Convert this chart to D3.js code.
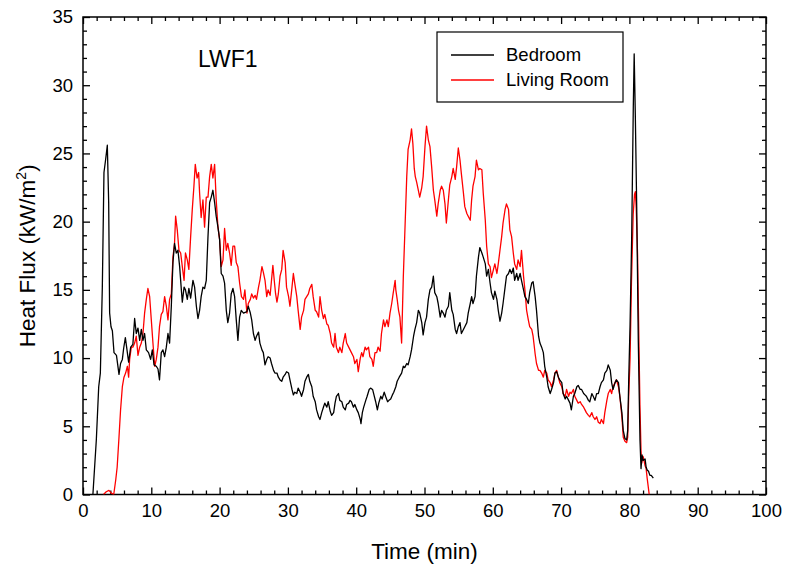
<!DOCTYPE html>
<html><head><meta charset="utf-8">
<script src="https://cdn.jsdelivr.net/npm/d3@7"></script>
<style>
html,body{margin:0;padding:0;background:#fff;}
svg text{font-family:"Liberation Sans",Arial,sans-serif;fill:#000;}
</style></head>
<body><svg id="chart" width="786" height="573"></svg>
<script>
// ---- data ----
const xTicks = [0,10,20,30,40,50,60,70,80,90,100];
const yTicks = [0,5,10,15,20,25,30,35];
const seriesNames = ["Bedroom","Living Room"];
const seriesColors = ["#000000","#ff0000"];
const chartLabel = "LWF1";

const bedroomTime = [1.45,1.95,2.3,2.54,2.83,3.07,3.3,3.56,3.76,3.9,4.1,4.3,4.54,4.9,5.27,5.5,5.76,5.95,6.2,6.44,6.68,6.98,7.3,7.56,7.8,8.05,8.3,8.54,8.78,9.02,9.27,9.6,9.9,10.15,10.4,10.73,10.98,11.2,11.46,11.7,11.95,12.2,12.44,12.68,12.93,13.17,13.4,13.66,13.9,14.15,14.4,14.54,14.8,15.0,15.27,15.5,15.76,16.1,16.34,16.6,16.83,17.07,17.3,17.56,17.8,18.05,18.3,18.54,18.78,19.02,19.27,19.5,19.76,20.0,20.24,20.5,20.73,20.98,21.2,21.46,21.7,21.95,22.2,22.44,22.68,22.93,23.17,
23.5,24.0,24.2,24.5,24.7,24.95,25.2,25.4,25.7,25.9,26.2,26.4,26.65,26.9,27.1,27.4,27.6,27.9,28.1,28.4,28.6,28.85,29.1,29.3,29.6,29.8,30.1,30.3,30.6,30.8,31.0,31.3,31.5,31.8,32.0,32.3,32.5,32.75,33.0,33.2,33.5,33.7,34.0,34.2,34.5,34.7,34.95,35.2,35.4,35.7,35.9,36.2,36.4,36.7,36.9,37.1,37.4,37.6,37.9,38.1,38.4,38.6,38.9,39.1,39.3,39.6,39.8,40.1,40.3,40.6,40.7,40.9,41.1,41.4,41.6,41.9,42.1,42.4,42.6,42.85,43.1,43.3,43.6,43.8,44.1,44.3,44.6,44.8,45.05,45.3,45.5,45.8,46.0,46.3,
46.65,46.9,47.1,47.4,47.6,47.9,48.1,48.4,48.6,48.85,49.1,49.3,49.6,49.8,50.07,50.3,50.56,50.8,51.05,51.3,51.5,51.8,52.0,52.3,52.5,52.75,53.0,53.2,53.5,53.7,54.0,54.2,54.5,54.7,54.95,55.2,55.4,55.7,55.9,56.2,56.4,56.7,56.9,57.1,57.4,57.6,57.9,58.1,58.4,58.6,58.9,59.1,59.35,59.6,59.8,60.1,60.3,60.6,60.8,61.05,61.3,61.5,61.8,62.0,62.3,62.5,62.75,63.0,63.2,63.5,63.7,64.0,64.2,64.5,64.7,64.95,65.2,65.4,65.7,65.9,66.2,66.4,66.7,
66.9,67.15,67.4,67.6,67.9,68.1,68.4,68.6,68.9,69.1,69.35,69.6,69.8,70.1,70.3,70.6,70.8,71.1,71.3,71.5,71.8,72.0,72.3,72.5,72.8,73.0,73.3,73.5,73.7,74.0,74.2,74.5,74.7,74.96,75.2,75.45,75.7,75.9,76.2,76.4,76.7,76.9,77.2,77.4,77.6,77.9,78.1,78.4,78.6,78.9,79.1,79.35,79.6,79.75,79.9,80.1,80.33,80.57,80.7,80.87,81.07,81.3,81.55,81.7,81.85,82.0,82.3,82.45,82.6,82.8,83.0,83.2,83.5];
const bedroomFlux = [0,4.0,7.9,8.9,15.2,23.6,24.5,25.6,21.4,13.3,12.3,12.0,10.4,10.2,8.8,9.6,9.9,10.7,11.5,10.6,9.7,10.8,11.0,12.9,11.8,12.2,11.3,12.1,11.3,11.8,10.6,10.4,9.9,10.6,9.5,9.4,9.2,8.4,10.4,10.6,10.1,10.8,11.8,11.1,13.8,17.0,18.4,17.7,17.9,16.7,15.0,14.1,15.2,15.0,14.3,15.1,14.4,15.7,15.2,13.8,12.9,13.5,14.5,15.2,15.1,15.7,18.9,21.4,21.8,22.3,21.4,20.4,19.6,18.7,16.2,16.0,15.5,13.5,12.6,13.3,14.7,15.1,14.5,12.8,11.3,13.0,13.5,
13.3,13.4,13.8,13.3,12.8,11.8,11.3,11.6,11.9,11.1,10.6,10.4,9.5,9.9,10.1,10.0,9.6,9.1,8.9,8.9,8.6,8.4,8.3,8.6,8.8,9.0,8.9,8.4,7.7,7.3,7.5,7.4,7.8,7.5,7.2,7.7,8.3,8.6,8.8,8.3,7.9,7.2,6.8,6.2,5.7,5.5,6.0,6.4,6.7,6.4,6.8,6.1,5.8,6.0,6.7,7.2,7.4,6.9,6.8,6.4,6.2,6.6,6.7,6.9,6.8,6.4,6.6,6.2,6.0,5.5,5.2,6.0,6.4,6.9,7.2,7.7,7.8,7.7,7.3,6.8,6.2,6.7,7.2,7.0,7.5,7.2,6.8,6.9,7.0,7.3,7.5,7.9,8.3,8.6,
8.9,9.4,9.3,9.6,9.5,10.1,10.6,11.6,12.1,12.6,13.5,13.3,12.6,11.7,12.6,13.0,14.3,15.0,15.2,16.0,14.8,14.5,14.0,13.0,13.5,13.3,13.0,13.5,13.8,14.8,13.5,13.2,12.1,11.8,12.3,12.6,11.8,12.1,12.3,12.6,13.3,14.0,14.5,14.0,14.5,16.0,17.4,18.1,17.7,17.4,16.9,16.0,16.5,15.5,14.8,14.3,14.9,14.3,13.5,12.7,13.3,14.0,15.2,16.0,16.2,16.5,16.2,16.6,15.7,16.2,15.7,16.2,15.7,15.0,14.5,14.3,14.0,14.8,15.5,15.6,14.5,13.5,11.6,
11.1,10.8,10.4,9.4,8.6,7.9,7.4,7.7,8.2,8.9,9.0,8.6,8.4,8.2,7.4,7.0,7.2,6.9,6.7,6.2,7.2,7.4,7.9,8.0,7.7,7.7,7.4,7.3,7.2,6.9,6.8,7.4,7.2,6.9,7.4,7.4,7.9,8.2,8.4,8.9,9.1,9.5,9.1,8.2,7.7,8.2,8.4,8.2,7.2,6.0,4.7,4.1,4.0,4.7,8.4,12.5,18.7,28.4,32.3,27.7,21.1,11.3,4.0,1.9,2.9,2.5,2.6,2.0,1.8,1.7,1.4,1.4,1.2];

const livingTime = [3.0,3.4,3.8,4.15,4.5,4.8,5.0,5.27,5.5,5.76,6.0,6.24,6.5,6.68,6.83,7.07,7.3,7.56,7.8,8.05,8.3,8.54,8.78,9.02,9.27,9.5,9.76,10.0,10.24,10.5,10.73,10.98,11.2,11.46,11.7,11.95,12.2,12.44,12.68,12.93,13.17,13.4,13.56,13.8,14.05,14.3,14.54,14.8,15.0,15.27,15.5,15.76,16.0,16.24,16.44,16.7,16.93,17.07,17.3,17.56,17.8,18.05,18.3,18.54,18.78,19.02,19.27,19.5,19.76,20.0,20.24,20.5,20.73,20.98,21.2,21.46,21.7,21.95,22.2,22.44,22.68,22.93,
23.2,23.5,23.7,24.0,24.2,24.5,24.7,24.95,25.2,25.4,25.7,25.9,26.2,26.4,26.65,26.9,27.1,27.4,27.6,27.8,28.0,28.2,28.4,28.6,28.85,29.1,29.3,29.6,29.8,30.1,30.3,30.6,30.8,31.0,31.3,31.5,31.8,32.0,32.3,32.5,32.75,33.0,33.2,33.5,33.7,34.0,34.2,34.5,34.7,34.95,35.2,35.4,35.7,35.9,36.2,36.4,36.7,36.9,37.1,37.4,37.6,37.9,38.1,38.4,38.6,38.9,39.1,39.3,39.6,39.8,40.1,40.3,40.6,40.8,41.0,41.3,41.5,41.8,42.0,42.3,42.5,42.75,43.0,43.2,43.5,43.7,44.0,44.2,44.5,44.7,44.95,45.2,45.4,45.7,45.8,46.0,46.2,46.4,46.65,
46.9,47.1,47.4,47.6,47.9,48.1,48.3,48.5,48.65,48.85,49.1,49.3,49.6,49.8,50.07,50.3,50.56,50.8,51.05,51.3,51.5,51.8,52.0,52.3,52.5,52.75,53.0,53.2,53.5,53.7,54.0,54.2,54.5,54.7,54.95,55.2,55.4,55.7,55.9,56.2,56.4,56.7,56.9,57.1,57.4,57.6,57.9,58.1,58.4,58.6,58.9,59.1,59.35,59.6,59.8,60.1,60.3,60.6,60.8,61.05,61.3,61.5,61.8,62.0,62.3,62.5,62.75,63.0,63.2,63.5,63.7,64.0,64.2,64.5,64.7,64.95,65.2,65.4,65.7,65.9,66.2,66.4,66.7,
66.9,67.15,67.4,67.6,67.9,68.1,68.4,68.6,68.9,69.1,69.35,69.6,69.8,70.1,70.3,70.6,70.8,71.1,71.3,71.5,71.8,72.0,72.3,72.5,72.8,73.0,73.3,73.5,73.7,74.0,74.2,74.5,74.7,74.96,75.2,75.45,75.7,75.9,76.2,76.4,76.7,76.9,77.2,77.4,77.6,77.9,78.1,78.4,78.6,78.9,79.1,79.35,79.6,79.75,79.9,80.1,80.3,80.55,80.75,80.87,81.0,81.2,81.4,81.55,81.7,81.8,82.0,82.1,82.3,82.45,82.6,82.9];
const livingFlux = [0,0.2,0.3,0.1,0,1.1,2.0,4.2,6.2,7.9,8.6,8.9,9.4,8.6,9.9,10.8,10.8,11.1,11.6,10.2,10.8,11.1,11.8,13.3,14.3,15.1,14.5,12.8,11.1,9.4,9.9,10.8,12.3,13.2,13.4,14.5,13.8,12.8,14.3,14.7,17.4,18.4,20.4,19.4,17.9,17.7,16.7,15.7,17.7,17.2,16.5,18.9,20.9,22.6,24.2,23.2,23.6,22.1,20.3,21.6,19.6,21.8,21.8,23.3,24.2,23.2,24.2,21.6,19.6,18.7,16.7,17.2,19.5,17.9,18.4,17.7,16.8,18.2,18.2,17.0,16.7,15.5,
14.5,14.3,15.0,13.3,14.0,14.3,14.7,14.4,14.6,14.3,15.2,15.7,16.7,16.3,15.7,14.5,15.0,14.6,15.7,16.8,15.7,14.7,14.1,14.7,16.0,16.5,17.9,17.0,15.2,14.5,13.8,15.2,16.2,15.5,14.5,13.5,12.1,13.0,13.5,14.3,14.5,14.7,15.1,15.4,14.5,13.5,13.4,13.0,14.5,13.5,12.9,13.2,12.5,12.4,11.8,11.1,10.8,11.8,10.8,10.4,10.8,10.4,11.1,11.8,11.1,10.8,10.6,10.4,10.1,9.6,9.9,9.0,10.0,10.4,10.1,10.8,10.6,10.8,10.1,9.9,9.4,10.4,10.4,10.8,10.5,11.8,12.8,12.3,12.8,12.3,13.3,14.0,14.7,15.7,15.0,14.3,13.5,13.0,11.1,
16.0,18.9,23.3,25.3,26.0,26.8,25.7,23.9,23.3,22.9,22.3,21.8,22.5,23.3,25.5,27.0,26.0,25.5,24.0,22.3,21.6,20.4,21.3,22.3,22.6,22.3,21.3,19.9,21.6,22.7,23.3,23.9,23.1,24.0,25.4,24.5,23.5,22.1,21.1,20.6,20.4,20.1,21.6,22.6,23.3,24.5,23.8,23.9,23.8,22.1,20.1,18.2,16.9,16.7,15.9,16.5,16.9,16.2,16.9,17.9,18.9,19.9,20.9,21.3,20.9,19.4,18.9,17.7,16.9,16.5,17.2,16.7,17.9,16.0,15.0,13.5,12.8,12.3,12.1,11.6,10.3,9.6,9.1,
9.1,8.9,8.6,9.1,8.9,8.4,8.2,7.9,8.4,8.9,9.1,8.6,8.2,7.9,7.4,7.2,7.7,7.2,7.5,7.4,7.7,7.2,6.9,6.7,6.8,6.6,6.4,6.2,6.0,5.8,5.7,6.0,5.7,5.5,5.7,5.3,5.2,5.5,5.2,6.0,6.9,7.4,7.7,7.4,7.9,8.2,8.4,7.9,7.2,5.7,4.2,3.9,3.8,4.2,7.2,10.0,15.5,20.5,22.0,22.2,21.0,17.5,11.0,6.4,3.2,2.3,2.8,2.6,2.1,1.9,1.2,0];

// ---- layout ----
const svg = d3.select("#chart");
const L = 83, R = 766, T = 17, B = 494.5;
const x = d3.scaleLinear().domain([0,100]).range([L,R]);
const y = d3.scaleLinear().domain([0,35]).range([B,T]);
const xMinor = d3.range(0,101,2).filter(v => v % 10 !== 0);
const yMinor = d3.range(0,36,1).filter(v => v % 5 !== 0);

svg.append("defs").append("clipPath").attr("id","clip")
  .append("rect").attr("x",L).attr("y",T).attr("width",R-L).attr("height",B-T);

const fs = 18.5;
function styleAxis(g, showText){
  g.select(".domain").remove();
  g.selectAll(".tick line").attr("stroke","#000").attr("stroke-width",1.3);
  g.selectAll(".tick text").attr("font-size",fs).attr("fill","#000")
    .attr("font-family","'Liberation Sans', Arial, sans-serif");
  if(!showText) g.selectAll(".tick text").remove();
}
// bottom
svg.append("g").attr("transform",`translate(0,${B})`)
  .call(d3.axisBottom(x).tickValues(xTicks).tickSizeInner(-7).tickSizeOuter(0).tickPadding(9))
  .call(g=>styleAxis(g,true));
svg.append("g").attr("transform",`translate(0,${B})`)
  .call(d3.axisBottom(x).tickValues(xMinor).tickSizeInner(-4).tickSizeOuter(0).tickFormat(""))
  .call(g=>styleAxis(g,false));
// top
svg.append("g").attr("transform",`translate(0,${T})`)
  .call(d3.axisTop(x).tickValues(xTicks).tickSizeInner(-7).tickSizeOuter(0).tickFormat(""))
  .call(g=>styleAxis(g,false));
svg.append("g").attr("transform",`translate(0,${T})`)
  .call(d3.axisTop(x).tickValues(xMinor).tickSizeInner(-4).tickSizeOuter(0).tickFormat(""))
  .call(g=>styleAxis(g,false));
// left
svg.append("g").attr("transform",`translate(${L},0)`)
  .call(d3.axisLeft(y).tickValues(yTicks).tickSizeInner(-7).tickSizeOuter(0).tickPadding(10))
  .call(g=>styleAxis(g,true));
svg.append("g").attr("transform",`translate(${L},0)`)
  .call(d3.axisLeft(y).tickValues(yMinor).tickSizeInner(-4).tickSizeOuter(0).tickFormat(""))
  .call(g=>styleAxis(g,false));
// right
svg.append("g").attr("transform",`translate(${R},0)`)
  .call(d3.axisRight(y).tickValues(yTicks).tickSizeInner(-7).tickSizeOuter(0).tickFormat(""))
  .call(g=>styleAxis(g,false));
svg.append("g").attr("transform",`translate(${R},0)`)
  .call(d3.axisRight(y).tickValues(yMinor).tickSizeInner(-4).tickSizeOuter(0).tickFormat(""))
  .call(g=>styleAxis(g,false));

// frame
svg.append("rect").attr("x",L).attr("y",T).attr("width",R-L).attr("height",B-T)
  .attr("fill","none").attr("stroke","#000").attr("stroke-width",1.5);

// lines
const line = d3.line().x(d=>x(d[0])).y(d=>y(d[1]));
const series = [
  d3.zip(bedroomTime, bedroomFlux),
  d3.zip(livingTime, livingFlux)
];
const plot = svg.append("g").attr("clip-path","url(#clip)");
[1,0].forEach(i=>{
  plot.append("path").datum(series[i]).attr("d",line)
    .attr("fill","none").attr("stroke",seriesColors[i]).attr("stroke-width",1.3)
    .attr("stroke-linejoin","round");
});

// axis titles
svg.append("text").attr("x",(L+R)/2).attr("y",559).attr("text-anchor","middle")
  .attr("font-size",22.5).text("Time (min)");
const yt = svg.append("text").attr("transform",`translate(35,${(T+B)/2}) rotate(-90)`)
  .attr("text-anchor","middle").attr("font-size",22.5);
yt.append("tspan").text("Heat Flux (kW/m");
yt.append("tspan").attr("dy",-9).attr("font-size",14).text("2");
yt.append("tspan").attr("dy",9).text(")");

// chart label
svg.append("text").attr("x",198).attr("y",67).attr("font-size",23).text(chartLabel);

// legend
const lg = svg.append("g");
lg.append("rect").attr("x",437).attr("y",32).attr("width",186).attr("height",70)
  .attr("fill","#fff").attr("stroke","#000").attr("stroke-width",1.2);
seriesNames.forEach((n,i)=>{
  const yy = 55 + i*25;
  lg.append("line").attr("x1",451).attr("x2",494).attr("y1",yy).attr("y2",yy)
    .attr("stroke",seriesColors[i]).attr("stroke-width",1.3);
  lg.append("text").attr("x",506).attr("y",yy).attr("dy","0.35em")
    .attr("font-size",18.5).text(n);
});
</script></body></html>
